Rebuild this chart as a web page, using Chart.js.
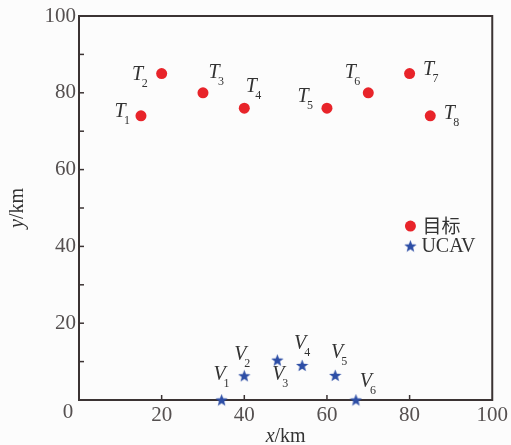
<!DOCTYPE html>
<html>
<head>
<meta charset="utf-8">
<script src="https://cdn.jsdelivr.net/npm/chart.js@4/dist/chart.umd.min.js"></script>
<style>
html,body{margin:0;padding:0;background:#fcfcfc;}
canvas{display:block;}
</style>
</head>
<body>
<canvas id="c" width="511" height="445"></canvas>
<script>
// ---- data ----
const targetX = [15, 20, 30, 40, 60, 70, 80, 85];
const targetY = [74, 85, 80, 76, 76, 80, 85, 74];
const targetSubs = ['1','2','3','4','5','6','7','8'];
const uavX = [34.5, 40, 48, 54, 62, 67];
const uavY = [0, 6.3, 10.4, 9, 6.4, 0];
const uavSubs = ['1','2','3','4','5','6'];
const tickValues = [0, 20, 40, 60, 80, 100];
const legendNames = ['目标', 'UCAV'];

// ---- label offsets (pixels, centre of main letter relative to point) ----
const targetOffsets = [[-21,-4],[-24,1],[11,-20],[7,-21],[-24,-11],[-18,-20],[19,-4],[19,-2]];
const uavOffsets = [[-2,-25],[-4,-21],[1,15],[-2,-22],[2,-23],[10,-18]];

const RED = '#e8242a';
const BLUE = '#2d4ea6';
const FRAME = '#3b3333';
const TEXT = '#555050';
const SERIF = '"Liberation Serif", "DejaVu Serif", serif';

function makeStar(size, color){
  const c = document.createElement('canvas');
  c.width = size; c.height = size;
  const g = c.getContext('2d');
  g.fillStyle = color;
  g.beginPath();
  for(let i=0;i<10;i++){
    const r = (i%2) ? size*0.21 : size/2;
    const a = -Math.PI/2 + i*Math.PI/5;
    const px = size/2 + r*Math.cos(a), py = size/2 + 0.5 + r*Math.sin(a);
    if(i===0) g.moveTo(px,py); else g.lineTo(px,py);
  }
  g.closePath(); g.fill();
  return c;
}
const starImg = makeStar(13, BLUE);

const decor = {
  id: 'decor',
  beforeDatasetsDraw(chart){
    const ctx = chart.ctx, a = chart.chartArea;
    const xs = chart.scales.x, ys = chart.scales.y;
    ctx.save();
    ctx.strokeStyle = FRAME; ctx.lineWidth = 2;
    ctx.strokeRect(a.left, a.top, a.right-a.left, a.bottom-a.top);
    ctx.lineWidth = 1.5;
    for(let v=10; v<100; v+=10){
      const py = ys.getPixelForValue(v);
      ctx.beginPath(); ctx.moveTo(a.left, py); ctx.lineTo(a.left+5, py); ctx.stroke();
    }
    for(let v=20; v<100; v+=20){
      const px = xs.getPixelForValue(v);
      ctx.beginPath(); ctx.moveTo(px, a.bottom); ctx.lineTo(px, a.bottom-5); ctx.stroke();
    }
    ctx.restore();
  },
  afterDraw(chart){
    const ctx = chart.ctx, a = chart.chartArea;
    const xs = chart.scales.x, ys = chart.scales.y;
    ctx.save();
    // corner zero
    ctx.fillStyle = TEXT;
    ctx.font = '21px ' + SERIF;
    ctx.textAlign = 'center'; ctx.textBaseline = 'middle';
    ctx.fillText('0', a.left - 11, a.bottom + 12);

    // point labels
    function lab(meta, letter, subs, offs){
      meta.data.forEach((el, i) => {
        const x = el.x + offs[i][0], y = el.y + offs[i][1];
        ctx.fillStyle = '#333';
        ctx.font = 'italic 20px ' + SERIF;
        ctx.textAlign = 'center'; ctx.textBaseline = 'middle';
        ctx.fillText(letter, x, y);
        ctx.font = '12px ' + SERIF;
        ctx.textAlign = 'left';
        ctx.fillText(subs[i], x + 4, y + 9);
      });
    }
    lab(chart.getDatasetMeta(0), 'T', targetSubs, targetOffsets);
    lab(chart.getDatasetMeta(1), 'V', uavSubs, uavOffsets);

    // legend
    const lx = xs.getPixelForValue(80.2), ly1 = ys.getPixelForValue(45.3), ly2 = ys.getPixelForValue(40.1);
    ctx.fillStyle = RED;
    ctx.beginPath(); ctx.arc(lx, ly1, 5.5, 0, Math.PI*2); ctx.fill();
    ctx.drawImage(starImg, lx - starImg.width/2, ly2 - starImg.height/2);
    ctx.fillStyle = '#333';
    ctx.textAlign = 'left'; ctx.textBaseline = 'middle';
    ctx.font = '19px "Noto Sans CJK SC", sans-serif';
    ctx.fillText(legendNames[0], lx + 12, ly1);
    ctx.font = '20px ' + SERIF;
    ctx.fillText(legendNames[1], lx + 11, ly2 + 1);

    // axis titles
    ctx.fillStyle = '#333';
    const cx = (a.left + a.right)/2;
    ctx.textBaseline = 'middle';
    ctx.font = 'italic 20px ' + SERIF;
    const wx = ctx.measureText('x').width;
    ctx.font = '20px ' + SERIF;
    const wk = ctx.measureText('/km').width;
    let sx = cx - (wx + wk)/2;
    ctx.textAlign = 'left';
    ctx.font = 'italic 20px ' + SERIF;
    ctx.fillText('x', sx, 437);
    ctx.font = '20px ' + SERIF;
    ctx.fillText('/km', sx + wx, 437);

    ctx.translate(18, (a.top + a.bottom)/2);
    ctx.rotate(-Math.PI/2);
    ctx.font = 'italic 20px ' + SERIF;
    const wy = ctx.measureText('y').width;
    sx = -(wy + wk)/2;
    ctx.fillText('y', sx, 0);
    ctx.font = '20px ' + SERIF;
    ctx.fillText('/km', sx + wy, 0);
    ctx.restore();
  }
};

new Chart(document.getElementById('c'), {
  type: 'scatter',
  data: {
    datasets: [
      {
        label: legendNames[0],
        data: targetX.map((x,i) => ({x, y: targetY[i]})),
        pointStyle: 'circle', pointRadius: 5.5, pointHoverRadius: 5.5,
        backgroundColor: RED, borderColor: RED, borderWidth: 0, clip: false
      },
      {
        label: legendNames[1],
        data: uavX.map((x,i) => ({x, y: uavY[i]})),
        pointStyle: starImg, pointRadius: 6, pointHoverRadius: 6,
        backgroundColor: BLUE, borderColor: BLUE, clip: false
      }
    ]
  },
  options: {
    responsive: false,
    animation: false,
    events: [],
    layout: { padding: { top: 16, right: 15, left: 0, bottom: 0 } },
    plugins: { legend: { display: false }, tooltip: { enabled: false } },
    scales: {
      x: {
        type: 'linear', min: 0, max: 100,
        afterBuildTicks: s => { s.ticks = tickValues.map(v => ({value: v})); },
        afterFit: s => { s.height = 45; },
        grid: { display: false, drawTicks: false, tickLength: 0 }, border: { display: false },
        ticks: {
          padding: 3, color: TEXT,
          font: { family: SERIF, size: 21 },
          maxRotation: 0,
          callback: v => v === 0 ? '' : String(v)
        }
      },
      y: {
        type: 'linear', min: 0, max: 100,
        afterBuildTicks: s => { s.ticks = tickValues.map(v => ({value: v})); },
        afterFit: s => { s.width = 79; },
        grid: { display: false, drawTicks: false, tickLength: 0 }, border: { display: false },
        ticks: {
          padding: 3, color: TEXT,
          font: { family: SERIF, size: 21 },
          callback: v => v === 0 ? '' : String(v)
        }
      }
    }
  },
  plugins: [decor]
});
</script>
</body>
</html>
